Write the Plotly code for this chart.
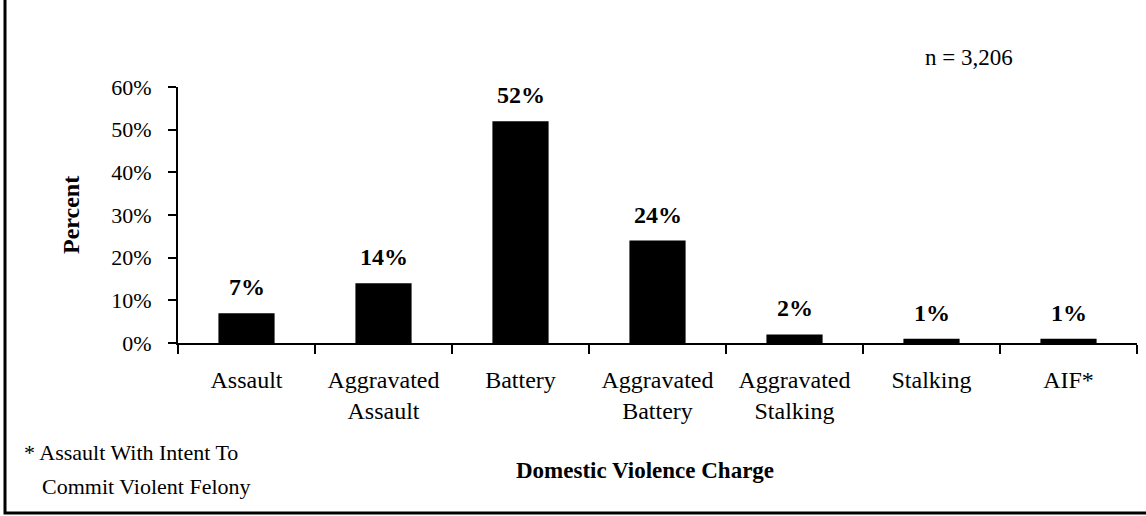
import plotly.graph_objects as go

categories = ["Assault", "Aggravated<br>Assault", "Battery", "Aggravated<br>Battery",
              "Aggravated<br>Stalking", "Stalking", "AIF*"]
percent = [0.07, 0.14, 0.52, 0.24, 0.02, 0.01, 0.01]
y_ticks = [0, 0.1, 0.2, 0.3, 0.4, 0.5, 0.6]

W, H = 1146, 516
L, R, T, B = 178, 9, 87, 173
pw, ph = W - L - R, H - T - B

def px_x(p):
    return (p - L) / pw

def px_y(p):
    return (H - B - p) / ph

FONT = "Liberation Serif, Times New Roman, serif"

fig = go.Figure()
fig.add_trace(go.Bar(x=categories, y=percent, marker=dict(color="black", line=dict(width=0)),
                     hoverinfo="skip"))

for c, v in zip(categories, percent):
    fig.add_annotation(x=c, y=v, text="<b>%d%%</b>" % round(v * 100), showarrow=False,
                       yanchor="bottom", xanchor="center", yshift=11,
                       font=dict(family=FONT, size=24, color="black"))

fig.update_layout(
    width=W, height=H,
    margin=dict(l=L, r=R, t=T, b=B),
    paper_bgcolor="white", plot_bgcolor="white",
    bargap=0.59,
    showlegend=False,
    font=dict(family=FONT, color="black"),
    xaxis=dict(
        showline=True, linecolor="black", linewidth=2,
        ticks="outside", tickson="boundaries", ticklen=9, tickwidth=2, tickcolor="black",
        tickfont=dict(family=FONT, size=24, color="black"),
        ticklabelstandoff=14,
        showgrid=False, zeroline=False,
        title=None,
    ),
    yaxis=dict(
        range=[0, 0.6], tickvals=y_ticks, tickformat=".0%",
        showline=True, linecolor="black", linewidth=2,
        ticks="outside", ticklen=8, tickwidth=2, tickcolor="black",
        tickfont=dict(family=FONT, size=22, color="black"),
        ticklabelstandoff=12,
        showgrid=False, zeroline=False,
        title=None,
    ),
)

def note(x, y, text, size, xanchor="center", angle=0):
    fig.add_annotation(xref="paper", yref="paper", x=px_x(x), y=px_y(y),
                       xanchor=xanchor, yanchor="middle", textangle=angle,
                       text=text, showarrow=False,
                       font=dict(family=FONT, size=size, color="black"))

note(645, 470, "<b>Domestic Violence Charge</b>", 23)
note(71, 215, "<b>Percent</b>", 24, angle=-90)
note(923, 57, "n = 3,206", 23, xanchor="left")
note(22, 452, "* Assault With Intent To", 22, xanchor="left")
note(40, 486, "Commit Violent Felony", 22, xanchor="left")

# outer frame
fig.add_shape(type="rect", xref="paper", yref="paper",
              x0=px_x(5), x1=px_x(1160), y0=px_y(513), y1=px_y(-10),
              line=dict(color="black", width=3), fillcolor="rgba(0,0,0,0)", layer="above")

fig.write_html("out.html", config={"displayModeBar": False, "staticPlot": True},
               post_script="document.body.style.margin='0px';")
